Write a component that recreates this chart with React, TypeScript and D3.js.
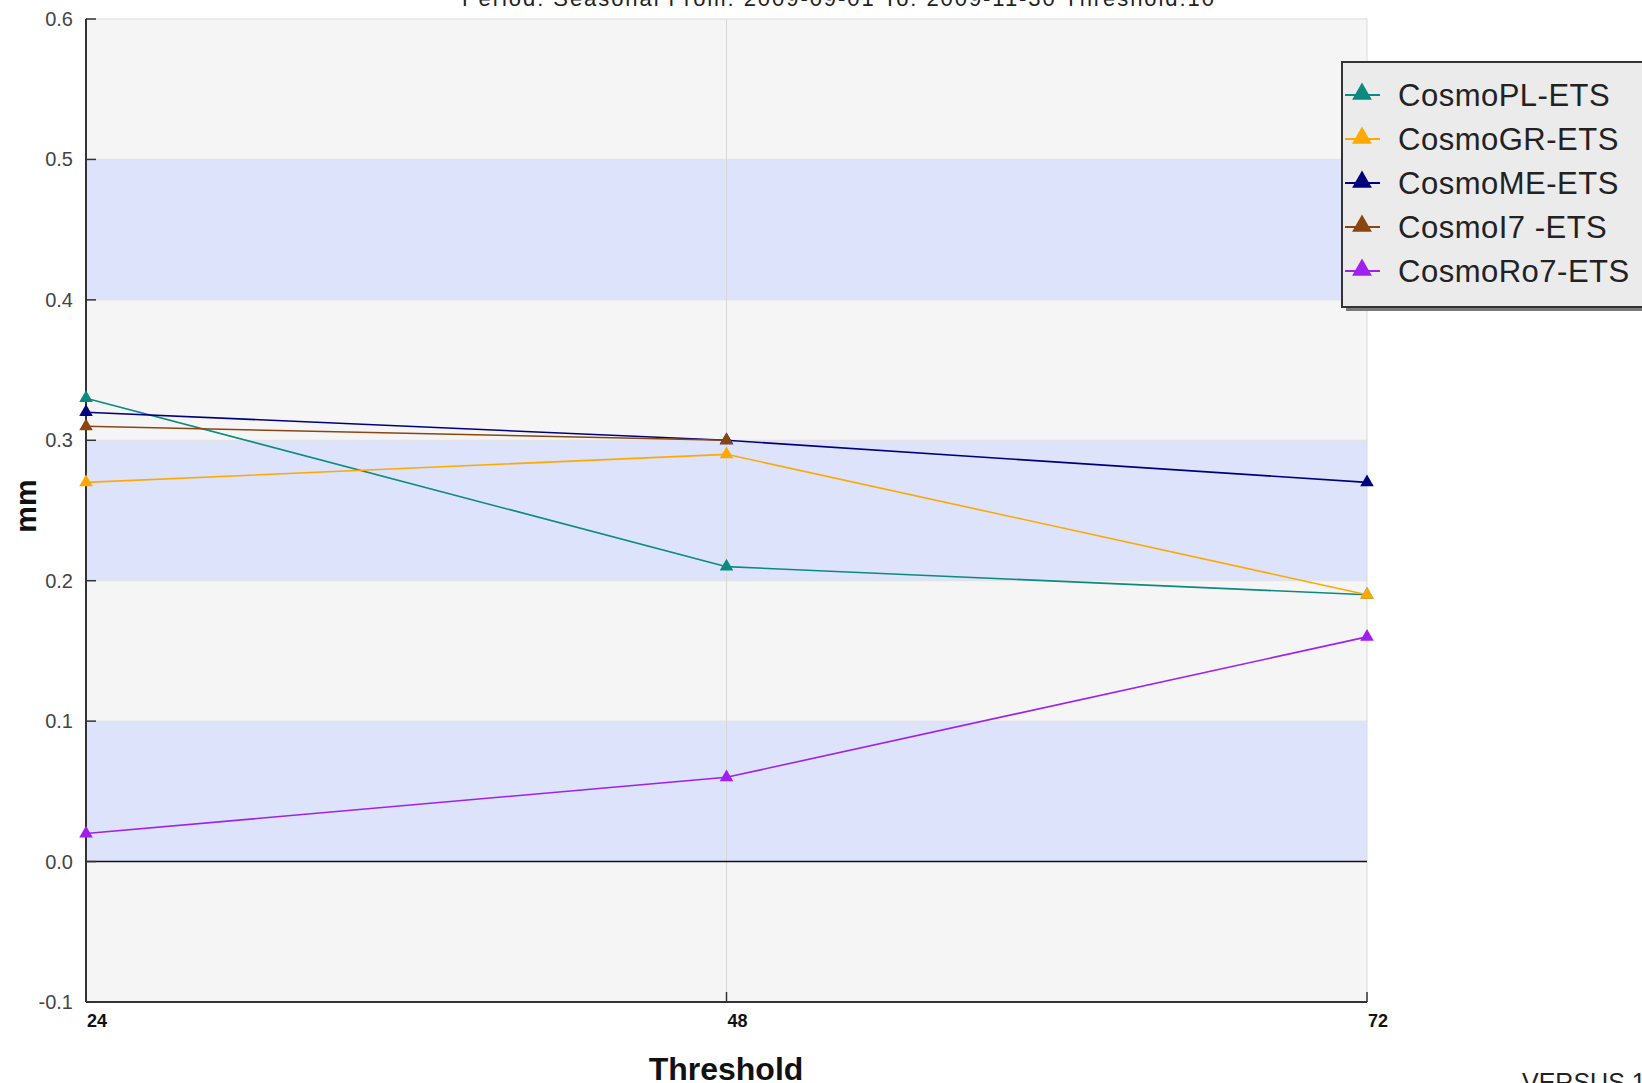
import React from 'react';
import * as d3 from 'd3';

const leadTimes = [24, 48, 72];
const seriesNames = ['CosmoPL-ETS', 'CosmoGR-ETS', 'CosmoME-ETS', 'CosmoI7 -ETS', 'CosmoRo7-ETS'];
const cosmoPL = [0.33, 0.21, 0.19];
const cosmoGR = [0.27, 0.29, 0.19];
const cosmoME = [0.32, 0.30, 0.27];
const cosmoI7 = [0.31, 0.30, null];
const cosmoRo7 = [0.02, 0.06, 0.16];
const seriesColors = ['#0b8a80', '#ffa800', '#00007f', '#8b4513', '#a020f0'];
const yTicks = [-0.1, 0.0, 0.1, 0.2, 0.3, 0.4, 0.5, 0.6];
const bandRanges = [[0.0, 0.1], [0.2, 0.3], [0.4, 0.5]];
const titleText = 'Period: Seasonal From:  2009-09-01   To:  2009-11-30  Threshold:10';
const xAxisTitle = 'Threshold';
const yAxisTitle = 'mm';
const footerText = 'VERSUS 1';

const W = 1642;
const H = 1083;
const plot = { left: 86, right: 1367, top: 19, bottom: 1002 };

export default function App() {
  const x = d3.scaleLinear().domain([24, 72]).range([plot.left, plot.right]);
  const y = d3.scaleLinear().domain([-0.1, 0.6]).range([plot.bottom, plot.top]);
  const allSeries = [cosmoPL, cosmoGR, cosmoME, cosmoI7, cosmoRo7];
  const line = d3
    .line<[number, number | null]>()
    .defined((d) => d[1] !== null)
    .x((d) => x(d[0]))
    .y((d) => y(d[1] as number));
  const tri = d3.symbol().type(d3.symbolTriangle).size(80);
  const triLegend = d3.symbol().type(d3.symbolTriangle).size(170);
  const font = "'Liberation Sans', Arial, sans-serif";

  const legendX = 1342;
  const legendY = 62;
  const legendRow = 44;

  return (
    <svg width={W} height={H} style={{ position: 'absolute', left: 0, top: 0, background: '#fff' }} fontFamily={font}>
      <rect x={0} y={0} width={W} height={H} fill="#ffffff" />
      {/* title (clipped at top) */}
      <text x={462} y={6} fontSize={22} fill="#222" textLength={752} lengthAdjust="spacing">{titleText}</text>

      {/* plot background */}
      <rect x={plot.left} y={plot.top} width={plot.right - plot.left} height={plot.bottom - plot.top} fill="#f5f5f5" />
      {bandRanges.map(([a, b], i) => (
        <rect key={'band' + i} x={plot.left} y={y(b)} width={plot.right - plot.left} height={y(a) - y(b)} fill="#dce3fb" />
      ))}
      {yTicks.map((t, i) => (
        <line key={'g' + i} x1={plot.left} x2={plot.right} y1={y(t)} y2={y(t)} stroke="#e2e2e2" strokeWidth={1} />
      ))}
      <line x1={x(48)} x2={x(48)} y1={plot.top} y2={plot.bottom} stroke="#d6d6d6" strokeWidth={1} />
      <line x1={plot.right} x2={plot.right} y1={plot.top} y2={plot.bottom} stroke="#dadada" strokeWidth={1} />
      <line x1={plot.left} x2={plot.right} y1={plot.top} y2={plot.top} stroke="#e6e6e6" strokeWidth={1} />
      {/* zero line */}
      <line x1={plot.left} x2={plot.right} y1={y(0)} y2={y(0)} stroke="#111" strokeWidth={1.5} />

      {/* axes */}
      <line x1={plot.left} x2={plot.left} y1={plot.top} y2={plot.bottom} stroke="#333" strokeWidth={2} />
      <line x1={plot.left} x2={plot.right} y1={plot.bottom} y2={plot.bottom} stroke="#333" strokeWidth={2} />
      {yTicks.map((t, i) => (
        <g key={'yt' + i}>
          <line x1={plot.left} x2={plot.left + 10} y1={y(t)} y2={y(t)} stroke="#333" strokeWidth={1.5} />
          <text x={73} y={y(t) + 7} textAnchor="end" fontSize={20} fill="#444">{t.toFixed(1)}</text>
        </g>
      ))}
      {leadTimes.map((v, i) => (
        <g key={'xt' + i}>
          <line x1={x(v)} x2={x(v)} y1={plot.bottom} y2={plot.bottom - 10} stroke="#333" strokeWidth={1.5} />
          <text x={x(v) + 1} y={1027} fontSize={18} fontWeight="bold" fill="#111">{v}</text>
        </g>
      ))}
      <text x={726} y={1080} textAnchor="middle" fontSize={32} fontWeight="bold" fill="#111">{xAxisTitle}</text>
      <text transform={`translate(36, 506) rotate(-90)`} textAnchor="middle" fontSize={30} fontWeight="bold" fill="#111">{yAxisTitle}</text>

      {/* series */}
      {allSeries.map((s, si) => {
        const pts = leadTimes.map((lt, i) => [lt, s[i]] as [number, number | null]);
        return (
          <g key={'s' + si}>
            <path d={line(pts) || ''} fill="none" stroke={seriesColors[si]} strokeWidth={1.6} />
            {pts.filter((p) => p[1] !== null).map((p, i) => (
              <path key={i} d={tri() || ''} transform={`translate(${x(p[0])},${y(p[1] as number)})`} fill={seriesColors[si]} />
            ))}
          </g>
        );
      })}

      {/* legend */}
      <rect x={legendX + 4} y={legendY + 4} width={W - legendX} height={245} fill="#7a7a7a" />
      <rect x={legendX} y={legendY} width={W - legendX + 10} height={245} fill="#ebebeb" stroke="#333" strokeWidth={2} />
      {seriesNames.map((n, i) => {
        const cy = legendY + 33 + i * legendRow;
        return (
          <g key={'lg' + i}>
            <line x1={legendX + 3} x2={legendX + 38} y1={cy} y2={cy} stroke={seriesColors[i]} strokeWidth={2} />
            <path d={triLegend() || ''} transform={`translate(${legendX + 20},${cy - 1})`} fill={seriesColors[i]} />
            <text x={legendX + 56} y={cy + 11} fontSize={31} fill="#222" letterSpacing={0.5}>{n}</text>
          </g>
        );
      })}

      <text x={1522} y={1091} fontSize={25} fill="#222">{footerText}</text>
    </svg>
  );
}
